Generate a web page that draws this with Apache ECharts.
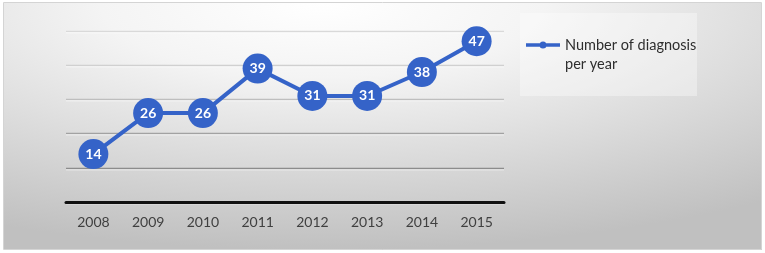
<!DOCTYPE html>
<html><head><meta charset="utf-8">
<script src="https://cdn.jsdelivr.net/npm/echarts@6/dist/echarts.min.js"></script>
<style>html,body{margin:0;padding:0;background:#fff}#c{width:765px;height:253px}</style>
</head><body><div id="c"></div>
<script>
const years = ['2008','2009','2010','2011','2012','2013','2014','2015'];
const diagnoses = [14, 26, 26, 39, 31, 31, 38, 47];
const seriesName = 'Number of diagnosis\nper year';
const yMin = 0, yMax = 50, yStep = 10;

const chart = echarts.init(document.getElementById('c'), null, {renderer: 'canvas'});
const FONT = 'Lato, "Open Sans", sans-serif';
const BLUE = '#3563c8';
chart.setOption({
  backgroundColor: '#fff',
  animation: false,
  graphic: [
    {type: 'rect', z: -10, silent: true,
     shape: {x: 0, y: 0, width: 253, height: 247},
     scaleX: 758/253, x: 4, y: 3,
     style: {fill: {type: 'radial', x: 0.42, y: 0.0, r: 1.0,
       colorStops: [{offset: 0, color: '#ffffff'}, {offset: 0.3, color: '#f4f4f4'}, {offset: 1, color: '#c0c0c0'}]},
       stroke: null}},
    {type: 'rect', z: -9, silent: true,
     shape: {x: 3.5, y: 2.5, width: 758, height: 247},
     style: {fill: null, stroke: '#d4d4d4', lineWidth: 1}},
    {type: 'rect', z: -8, silent: true,
     shape: {x: 520, y: 13, width: 177, height: 83},
     style: {fill: 'rgba(255,255,255,0.35)', stroke: null}}
  ],
  grid: {left: 66, right: 261, top: 31, bottom: 51},
  legend: {
    left: 526, top: 36, padding: 0,
    itemWidth: 34, itemHeight: 38, itemGap: 0,
    data: [{name: seriesName, icon: 'path://M0,0M34,38M0,7.2H34V10.8H0ZM20.5,9A3.5,3.5,0,1,1,13.5,9A3.5,3.5,0,1,1,20.5,9Z'}],
    itemStyle: {color: BLUE},
    textStyle: {fontFamily: FONT, fontSize: 14.5, color: '#2e2e2e', lineHeight: 19},
  },
  xAxis: {
    type: 'category', data: years, boundaryGap: true,
    axisLine: {lineStyle: {color: '#111', width: 3}},
    axisTick: {show: false},
    axisLabel: {fontFamily: FONT, fontSize: 14, color: '#404040', margin: 13}
  },
  yAxis: {
    type: 'value', min: yMin, max: yMax, interval: yStep,
    axisLabel: {show: false}, axisLine: {show: false}, axisTick: {show: false},
    splitLine: {lineStyle: {color: ['#8c8c8c', '#8c8c8c', '#a2a2a2', '#bebebe', '#d0d0d0', '#d9d9d9'], width: 1.3,
      shadowColor: 'rgba(255,255,255,0.9)', shadowOffsetY: 1.2, shadowBlur: 0}}
  },
  series: [{
    name: seriesName, type: 'line', data: diagnoses,
    symbol: 'circle', symbolSize: 30,
    itemStyle: {color: BLUE},
    lineStyle: {color: BLUE, width: 4},
    label: {show: true, position: 'inside', color: '#fff', fontFamily: FONT, fontWeight: 'bold', fontSize: 14}
  }]
});
</script></body></html>
